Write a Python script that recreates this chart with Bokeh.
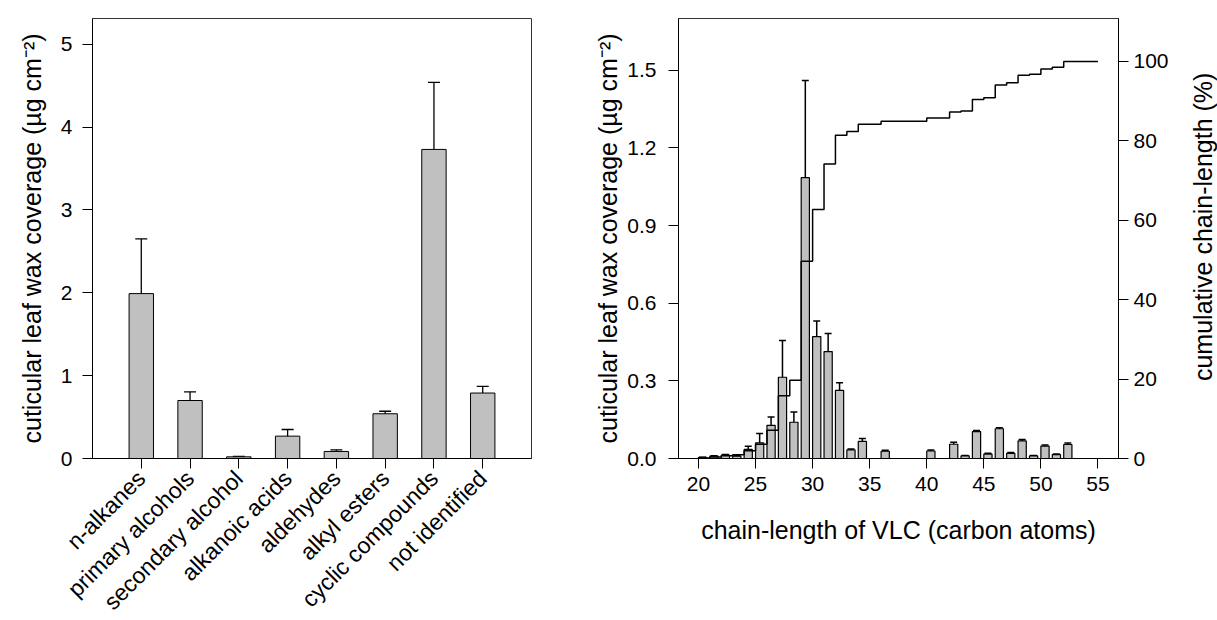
import math
import numpy as np
from bokeh.plotting import figure
from bokeh.layouts import row
from bokeh.core.properties import value
from bokeh.models import (ColumnDataSource, Whisker, TeeHead, FixedTicker, LinearAxis,
                          Range1d, FactorRange, NumeralTickFormatter)
from bokeh.embed import file_html
from bokeh.resources import INLINE

# ---------------- data ----------------
categories = ["n-alkanes", "primary alcohols", "secondary alcohol", "alkanoic acids",
              "aldehydes", "alkyl esters", "cyclic compounds", "not identified"]
class_mean = [1.99, 0.70, 0.02, 0.27, 0.085, 0.54, 3.73, 0.79]
class_err = [0.66, 0.105, 0.006, 0.08, 0.018, 0.03, 0.81, 0.08]

chain_length = [20, 21, 22, 23, 24, 25, 26, 27, 28, 29, 30, 31, 32, 33, 34, 36,
                40, 42, 43, 44, 45, 46, 47, 48, 49, 50, 51, 52]
chain_mean = [0.004, 0.009, 0.013, 0.009, 0.035, 0.060, 0.128, 0.314, 0.140, 1.085,
              0.471, 0.413, 0.263, 0.033, 0.066, 0.028, 0.029, 0.055, 0.010, 0.104,
              0.017, 0.115, 0.020, 0.068, 0.010, 0.048, 0.015, 0.054]
chain_err = [0.001, 0.002, 0.002, 0.002, 0.012, 0.037, 0.032, 0.142, 0.040, 0.375,
             0.060, 0.070, 0.030, 0.004, 0.011, 0.004, 0.004, 0.008, 0.002, 0.004,
             0.003, 0.004, 0.003, 0.005, 0.002, 0.004, 0.002, 0.006]
chain_end = 55

left_ticks = [0, 1, 2, 3, 4, 5]
right_x_ticks = [20, 25, 30, 35, 40, 45, 50, 55]
right_y_ticks = [0.0, 0.3, 0.6, 0.9, 1.2, 1.5]
cum_ticks = [0, 20, 40, 60, 80, 100]

FONT = "Liberation Sans"
BAR_FILL = "#c0c0c0"
TICK_SIZE = "21px"
CAT_SIZE = "23px"
TITLE_SIZE = "25px"
YTITLE = "cuticular leaf wax coverage (\u00b5g cm\u207b\u00b2)"
CUM_TITLE = "cumulative chain-length (%)"


def style_axis(ax, standoff=8):
    ax.axis_line_color = "black"
    ax.axis_line_width = 1
    ax.major_tick_line_color = "black"
    ax.major_tick_in = 0
    ax.major_tick_out = 10
    ax.minor_tick_line_color = None
    ax.major_label_text_font = FONT
    ax.major_label_text_font_size = TICK_SIZE
    ax.major_label_text_color = "black"
    ax.major_label_standoff = standoff
    ax.axis_label_text_font = FONT
    ax.axis_label_text_font_size = TITLE_SIZE
    ax.axis_label_text_font_style = "normal"
    ax.axis_label_text_color = "black"


# ---------------- left chart ----------------
src1 = ColumnDataSource(dict(
    cat=categories, mean=class_mean,
    upper=[m + e for m, e in zip(class_mean, class_err)],
    lower=[m - e for m, e in zip(class_mean, class_err)],
))

p1 = figure(x_range=FactorRange(*categories, range_padding=0.5, range_padding_units="absolute"),
            y_range=Range1d(0, 5.31),
            frame_width=439, frame_height=440,
            min_border_left=92, min_border_right=57, min_border_top=18, min_border_bottom=162,
            output_backend="svg", toolbar_location=None)
p1.vbar(x="cat", top="mean", width=0.5, source=src1, fill_color=BAR_FILL,
        line_color="black", line_width=1)
p1.add_layout(Whisker(base="cat", upper="upper", lower="lower", source=src1,
                      line_color="black", line_width=1.3,
                      upper_head=TeeHead(size=12, line_color="black", line_width=1.3),
                      lower_head=TeeHead(size=12, line_color="black", line_width=1.3)))
p1.yaxis.ticker = FixedTicker(ticks=left_ticks)
p1.yaxis.axis_label = YTITLE
style_axis(p1.xaxis[0], 6)
style_axis(p1.yaxis[0], 10)
p1.xaxis.major_label_text_font_size = CAT_SIZE
p1.yaxis.axis_label_standoff = 12
p1.xaxis.major_label_orientation = math.pi / 4
p1.xgrid.grid_line_color = None
p1.ygrid.grid_line_color = None
p1.outline_line_color = "#333333"
p1.outline_line_width = 1
p1.background_fill_color = "white"
p1.border_fill_color = "white"

# ---------------- right chart ----------------
BAR_W = 0.72
total = float(np.sum(chain_mean))
cum = list(np.cumsum(chain_mean) / total * 100.0)

src2 = ColumnDataSource(dict(
    x=[c + BAR_W / 2 for c in chain_length], mean=chain_mean,
    upper=[m + e for m, e in zip(chain_mean, chain_err)],
    lower=[m - e for m, e in zip(chain_mean, chain_err)],
))

p2 = figure(x_range=Range1d(18.25, 56.8), y_range=Range1d(0, 1.70),
            frame_width=440, frame_height=440,
            min_border_left=90, min_border_right=69, min_border_top=18, min_border_bottom=162,
            output_backend="svg", toolbar_location=None)
p2.extra_y_ranges = {"cum": Range1d(0, 110.8)}
p2.vbar(x="x", top="mean", width=BAR_W, source=src2, fill_color=BAR_FILL,
        line_color="black", line_width=1.2)
p2.add_layout(Whisker(base="x", upper="upper", lower="lower", source=src2,
                      line_color="black", line_width=1.5,
                      upper_head=TeeHead(size=7, line_color="black", line_width=1.5),
                      lower_head=TeeHead(size=7, line_color="black", line_width=1.5)))
p2.step(x=list(chain_length) + [chain_end], y=cum + [100.0], mode="after",
        y_range_name="cum", line_color="black", line_width=1.5)

p2.xaxis.ticker = FixedTicker(ticks=right_x_ticks)
p2.xaxis.axis_label = "chain-length of VLC (carbon atoms)"
p2.yaxis.ticker = FixedTicker(ticks=right_y_ticks)
p2.yaxis.formatter = NumeralTickFormatter(format="0.0")
p2.yaxis.axis_label = YTITLE
style_axis(p2.xaxis[0], 8)
style_axis(p2.yaxis[0], 12)
p2.xaxis.axis_label_standoff = 22
p2.yaxis.axis_label_standoff = 2

rax = LinearAxis(y_range_name="cum", ticker=FixedTicker(ticks=cum_ticks))
style_axis(rax, 5)
p2.add_layout(rax, "right")

p2.xgrid.grid_line_color = None
p2.ygrid.grid_line_color = None
p2.outline_line_color = "#333333"
p2.outline_line_width = 1
p2.background_fill_color = "white"
p2.border_fill_color = "white"

# ---------------- right-axis title (own narrow panel; frame aligned with p2) ----------------
p3 = figure(width=30, height=620, x_range=Range1d(0, 1), y_range=Range1d(0, 1),
            min_border=0, output_backend="svg", toolbar_location=None)
p3.axis.visible = False
p3.xgrid.grid_line_color = None
p3.ygrid.grid_line_color = None
p3.outline_line_color = None
p3.text(x=[0.5], y=[0.52], text=[CUM_TITLE], angle=math.pi / 2,
        text_align="center", text_baseline="middle",
        text_font=value(FONT), text_font_size=value(TITLE_SIZE), text_color="black")

layout = row(p1, p2, p3)
open("out.html", "w").write(file_html(layout, INLINE))
